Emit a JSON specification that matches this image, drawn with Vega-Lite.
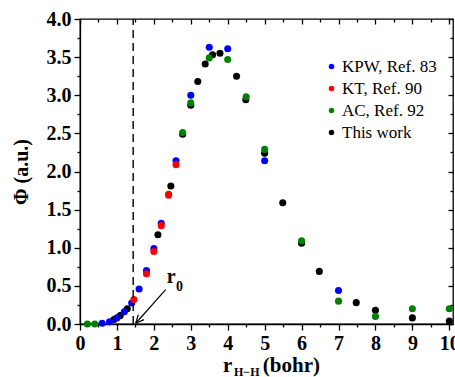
{
  "$schema": "https://vega.github.io/schema/vega-lite/v6.json",
  "width": 373,
  "height": 305,
  "autosize": {"type": "none"},
  "padding": {"left": 80, "top": 19, "right": 2, "bottom": 53},
  "background": "white",
  "config": {
    "view": {"stroke": "black", "strokeWidth": 1.3},
    "font": "Liberation Serif",
    "axis": {
      "grid": false,
      "domainColor": "black",
      "domainWidth": 1.3,
      "tickColor": "black",
      "tickWidth": 1.3,
      "labelFont": "Liberation Serif",
      "labelFontWeight": "bold",
      "labelFontSize": 20,
      "labelColor": "black",
      "titleFont": "Liberation Serif",
      "titleFontWeight": "bold",
      "titleFontSize": 20,
      "titleColor": "black"
    }
  },
  "resolve": {"axis": {"x": "independent", "y": "independent"}},
  "datasets": {
    "pts": [
      {"series": "This work", "r": 0.92, "phi": 0.06},
      {"series": "This work", "r": 1.09, "phi": 0.11},
      {"series": "This work", "r": 1.28, "phi": 0.2},
      {"series": "This work", "r": 2.11, "phi": 1.17},
      {"series": "This work", "r": 2.46, "phi": 1.81},
      {"series": "This work", "r": 2.78, "phi": 2.49},
      {"series": "This work", "r": 3.0, "phi": 2.87},
      {"series": "This work", "r": 3.19, "phi": 3.18},
      {"series": "This work", "r": 3.39, "phi": 3.41},
      {"series": "This work", "r": 3.59, "phi": 3.53},
      {"series": "This work", "r": 3.79, "phi": 3.55},
      {"series": "This work", "r": 4.24, "phi": 3.25},
      {"series": "This work", "r": 4.49, "phi": 2.94},
      {"series": "This work", "r": 5.0, "phi": 2.24},
      {"series": "This work", "r": 5.49, "phi": 1.59},
      {"series": "This work", "r": 6.0, "phi": 1.06},
      {"series": "This work", "r": 6.48, "phi": 0.69},
      {"series": "This work", "r": 7.48, "phi": 0.28},
      {"series": "This work", "r": 8.0, "phi": 0.18},
      {"series": "This work", "r": 9.0, "phi": 0.08},
      {"series": "This work", "r": 10.0, "phi": 0.04},
      {"series": "AC, Ref. 92", "r": 0.2, "phi": 0.0},
      {"series": "AC, Ref. 92", "r": 0.4, "phi": 0.0},
      {"series": "AC, Ref. 92", "r": 2.4, "phi": 1.7},
      {"series": "AC, Ref. 92", "r": 2.78, "phi": 2.51},
      {"series": "AC, Ref. 92", "r": 3.0, "phi": 2.9},
      {"series": "AC, Ref. 92", "r": 3.5, "phi": 3.49},
      {"series": "AC, Ref. 92", "r": 4.0, "phi": 3.47},
      {"series": "AC, Ref. 92", "r": 4.5, "phi": 2.98},
      {"series": "AC, Ref. 92", "r": 5.0, "phi": 2.29},
      {"series": "AC, Ref. 92", "r": 6.0, "phi": 1.09},
      {"series": "AC, Ref. 92", "r": 7.0, "phi": 0.3},
      {"series": "AC, Ref. 92", "r": 8.0, "phi": 0.1},
      {"series": "AC, Ref. 92", "r": 9.0, "phi": 0.2},
      {"series": "AC, Ref. 92", "r": 10.0, "phi": 0.2},
      {"series": "KPW, Ref. 83", "r": 0.6, "phi": 0.01},
      {"series": "KPW, Ref. 83", "r": 0.8, "phi": 0.03},
      {"series": "KPW, Ref. 83", "r": 1.0, "phi": 0.08},
      {"series": "KPW, Ref. 83", "r": 1.2, "phi": 0.16},
      {"series": "KPW, Ref. 83", "r": 1.4, "phi": 0.275},
      {"series": "KPW, Ref. 83", "r": 1.6, "phi": 0.46},
      {"series": "KPW, Ref. 83", "r": 1.8, "phi": 0.7},
      {"series": "KPW, Ref. 83", "r": 2.0, "phi": 0.99},
      {"series": "KPW, Ref. 83", "r": 2.2, "phi": 1.32},
      {"series": "KPW, Ref. 83", "r": 2.6, "phi": 2.14},
      {"series": "KPW, Ref. 83", "r": 3.0, "phi": 3.0},
      {"series": "KPW, Ref. 83", "r": 3.5, "phi": 3.63},
      {"series": "KPW, Ref. 83", "r": 4.0, "phi": 3.61},
      {"series": "KPW, Ref. 83", "r": 5.0, "phi": 2.14},
      {"series": "KPW, Ref. 83", "r": 7.0, "phi": 0.44},
      {"series": "KT, Ref. 90", "r": 1.46, "phi": 0.32},
      {"series": "KT, Ref. 90", "r": 1.8, "phi": 0.66},
      {"series": "KT, Ref. 90", "r": 2.0, "phi": 0.95},
      {"series": "KT, Ref. 90", "r": 2.2, "phi": 1.29},
      {"series": "KT, Ref. 90", "r": 2.4, "phi": 1.69},
      {"series": "KT, Ref. 90", "r": 2.6, "phi": 2.09}
    ],
    "arrow": [
      {"x": 1.51, "y": 0.01, "x2": 2.32, "y2": 0.45},
      {"x": 1.51, "y": 0.01, "x2": 1.733, "y2": 0.057},
      {"x": 1.51, "y": 0.01, "x2": 1.578, "y2": 0.123}
    ]
  },
  "layer": [
    {
      "data": {"name": "pts"},
      "mark": {"type": "point", "filled": true, "size": 50, "opacity": 1},
      "encoding": {
        "x": {
          "field": "r",
          "type": "quantitative",
          "scale": {"domain": [0, 10.1], "nice": false, "zero": false},
          "axis": {
            "orient": "bottom",
            "title": null,
            "values": [0, 0.5, 1, 1.5, 2, 2.5, 3, 3.5, 4, 4.5, 5, 5.5, 6, 6.5, 7, 7.5, 8, 8.5, 9, 9.5, 10],
            "labelExpr": "datum.value % 1 === 0 ? format(datum.value, 'd') : ''",
            "tickSize": {"condition": {"test": "datum.value % 1 !== 0", "value": 3}, "value": 6},
            "labelPadding": 3,
            "labelFlush": false,
            "labelOverlap": false
          }
        },
        "y": {
          "field": "phi",
          "type": "quantitative",
          "scale": {"domain": [0, 4], "nice": false},
          "axis": {
            "orient": "left",
            "title": "Φ (a.u.)",
            "titlePadding": 15,
            "values": [0, 0.25, 0.5, 0.75, 1, 1.25, 1.5, 1.75, 2, 2.25, 2.5, 2.75, 3, 3.25, 3.5, 3.75, 4],
            "labelExpr": "(datum.value * 2) % 1 === 0 ? format(datum.value, '.1f') : ''",
            "tickSize": {"condition": {"test": "(datum.value * 2) % 1 !== 0", "value": 3}, "value": 6},
            "labelPadding": 3,
            "labelFlush": false,
            "labelOverlap": false
          }
        },
        "color": {
          "field": "series",
          "type": "nominal",
          "sort": null,
          "scale": {
            "domain": ["KPW, Ref. 83", "KT, Ref. 90", "AC, Ref. 92", "This work"],
            "range": ["#0000ff", "#ff0000", "#008000", "#000000"]
          },
          "legend": {
            "title": null,
            "orient": "none",
            "legendX": 243,
            "legendY": 39,
            "padding": 0,
            "symbolType": "circle",
            "symbolSize": 30,
            "symbolStrokeWidth": 0,
            "labelFont": "Liberation Serif",
            "labelFontSize": 17,
            "labelColor": "black",
            "labelOffset": 2,
            "rowPadding": 4
          }
        }
      }
    },
    {
      "data": {"values": [{"a": 1}]},
      "mark": {"type": "rule", "strokeDash": [8, 5], "strokeWidth": 1.4, "color": "black"},
      "encoding": {
        "x": {
          "datum": 1.44,
          "type": "quantitative",
          "axis": {
            "orient": "top",
            "title": null,
            "labels": false,
            "domain": false,
            "values": [0, 0.5, 1, 1.5, 2, 2.5, 3, 3.5, 4, 4.5, 5, 5.5, 6, 6.5, 7, 7.5, 8, 8.5, 9, 9.5, 10],
            "tickSize": {"condition": {"test": "datum.value % 1 !== 0", "value": -3}, "value": -5}
          }
        },
        "y": {
          "datum": 0,
          "type": "quantitative",
          "axis": {
            "orient": "right",
            "title": null,
            "labels": false,
            "domain": false,
            "values": [0, 0.25, 0.5, 0.75, 1, 1.25, 1.5, 1.75, 2, 2.25, 2.5, 2.75, 3, 3.25, 3.5, 3.75, 4],
            "tickSize": {"condition": {"test": "(datum.value * 2) % 1 !== 0", "value": -3}, "value": -5}
          }
        },
        "y2": {"datum": 4}
      }
    },
    {
      "data": {"name": "arrow"},
      "mark": {"type": "rule", "strokeWidth": 1.2, "color": "black"},
      "encoding": {
        "x": {"field": "x", "type": "quantitative", "axis": null},
        "y": {"field": "y", "type": "quantitative", "axis": null},
        "x2": {"field": "x2"},
        "y2": {"field": "y2"}
      }
    },
    {
      "data": {"values": [
        {"t": "r", "x": 2.35, "y": 0.54, "s": 20},
        {"t": "0", "x": 2.6, "y": 0.43, "s": 14},
        {"t": "r", "x": 3.87, "y": -0.625, "s": 21},
        {"t": "H−H", "x": 4.17, "y": -0.678, "s": 12},
        {"t": "(bohr)", "x": 4.95, "y": -0.625, "s": 21}
      ]},
      "mark": {"type": "text", "align": "left", "baseline": "alphabetic", "font": "Liberation Serif", "fontWeight": "bold", "color": "black"},
      "encoding": {
        "x": {"field": "x", "type": "quantitative", "axis": null},
        "y": {"field": "y", "type": "quantitative", "axis": null},
        "text": {"field": "t"},
        "size": {"field": "s", "type": "quantitative", "scale": null, "legend": null}
      }
    }
  ]
}
